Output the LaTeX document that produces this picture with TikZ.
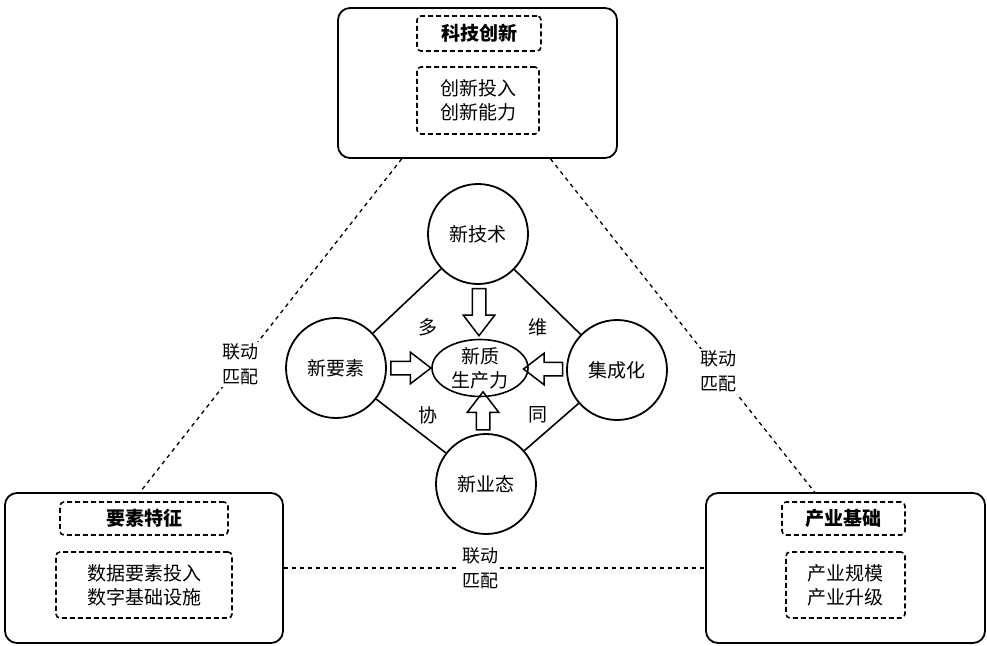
\documentclass[tikz,border=0pt]{standalone}
\usepackage{fontspec}
\setmainfont{Noto Sans CJK SC}
\usetikzlibrary{calc,shapes.geometric,shapes.arrows}
\begin{document}
\begin{tikzpicture}[x=1pt,y=-1pt,
 outer/.style={draw,line width=1.8pt,rounded corners=12pt,inner sep=0pt},
 dbox/.style={draw,line width=1.6pt,dash pattern=on 5pt off 3pt,rounded corners=4pt,inner sep=0pt,align=center,font=\fontsize{19}{24}\selectfont},
 ttl/.style={dbox,font=\fontsize{19}{24}\selectfont\bfseries},
 circ/.style={circle,draw,line width=1.8pt,minimum size=100pt,inner sep=0pt,font=\fontsize{19}{24}\selectfont},
 link/.style={line width=1.3pt,dash pattern=on 4pt off 4pt},
 lbl/.style={fill=white,align=center,inner sep=2pt,font=\fontsize{18}{25}\selectfont},
 side/.style={line width=1.6pt},
 fat/.style={single arrow,draw,line width=1.5pt,inner xsep=0pt,inner ysep=6pt,minimum width=30pt,single arrow head extend=9pt,single arrow tip angle=75,single arrow head indent=0pt},
 word/.style={font=\fontsize{19}{24}\selectfont}]
\useasboundingbox (0,0) rectangle (987,645);

% outer boxes
\node[outer,minimum width=279pt,minimum height=150pt] (top) at (477.5,83) {};
\node[ttl,minimum width=124pt,minimum height=35pt] (topT) at (479,33.5) {科技创新};
\node[dbox,minimum width=122pt,minimum height=67pt] (topC) at (478,100.5) {创新投入\\创新能力};

\node[outer,minimum width=278pt,minimum height=150pt] (lft) at (144,568) {};
\node[ttl,minimum width=168pt,minimum height=33pt] (lftT) at (144,518.5) {要素特征};
\node[dbox,minimum width=176pt,minimum height=66pt] (lftC) at (144,585) {数据要素投入\\数字基础设施};

\node[outer,minimum width=279pt,minimum height=150pt] (rgt) at (845.5,568) {};
\node[ttl,minimum width=123pt,minimum height=33pt] (rgtT) at (843.5,518.5) {产业基础};
\node[dbox,minimum width=119pt,minimum height=66pt] (rgtC) at (845.5,585) {产业规模\\产业升级};

% centre
\node[circ] (T) at (478,234) {新技术};
\node[circ] (L) at (336,368) {新要素};
\node[circ] (R) at (617,370) {集成化};
\node[circ] (B) at (486,484) {新业态};
\node[ellipse,draw,line width=1.6pt,minimum width=96pt,minimum height=57pt,inner sep=0pt,
  label={[align=center,font=\fontsize{19}{24}\selectfont]center:新质\\生产力}] (C) at (480,368) {};

\draw[side] (T) -- (L);
\draw[side] (L) -- (B);
\draw[side] (B) -- (R);
\draw[side] (R) -- (T);

\node[word] (w1) at (428,327) {多};
\node[word] (w2) at (538,327) {维};
\node[word] (w3) at (428,415) {协};
\node[word] (w4) at (538,415) {同};

\node[fat,rotate=-90,minimum height=47pt] (aT) at ($(T.south)!0.5!([yshift=8pt]C.north)$) {};
\node[fat,minimum height=40pt] (aL) at ($(L.east)!0.5!([xshift=-5pt]C.west)$) {};
\node[fat,rotate=180,minimum height=39pt] (aR) at ($(R.west)!0.5!(C.east)$) {};
\node[fat,rotate=90,minimum height=38pt] (aB) at ($(B.north)!0.5!(C.south)$) {};

% linking lines
\draw[link] ($(top.south west)!0.23!(top.south east)$) -- node[lbl,pos=0.616] (k1) {联动\\匹配} ($(lft.north west)!0.486!(lft.north east)$);
\draw[link] ($(top.south west)!0.76!(top.south east)$) -- node[lbl,pos=0.637] (k2) {联动\\匹配} ($(rgt.north west)!0.39!(rgt.north east)$);
\draw[link] (lft.east) -- node[lbl,pos=0.466] (k3) {联动\\匹配} (rgt.west);
\end{tikzpicture}
\end{document}
